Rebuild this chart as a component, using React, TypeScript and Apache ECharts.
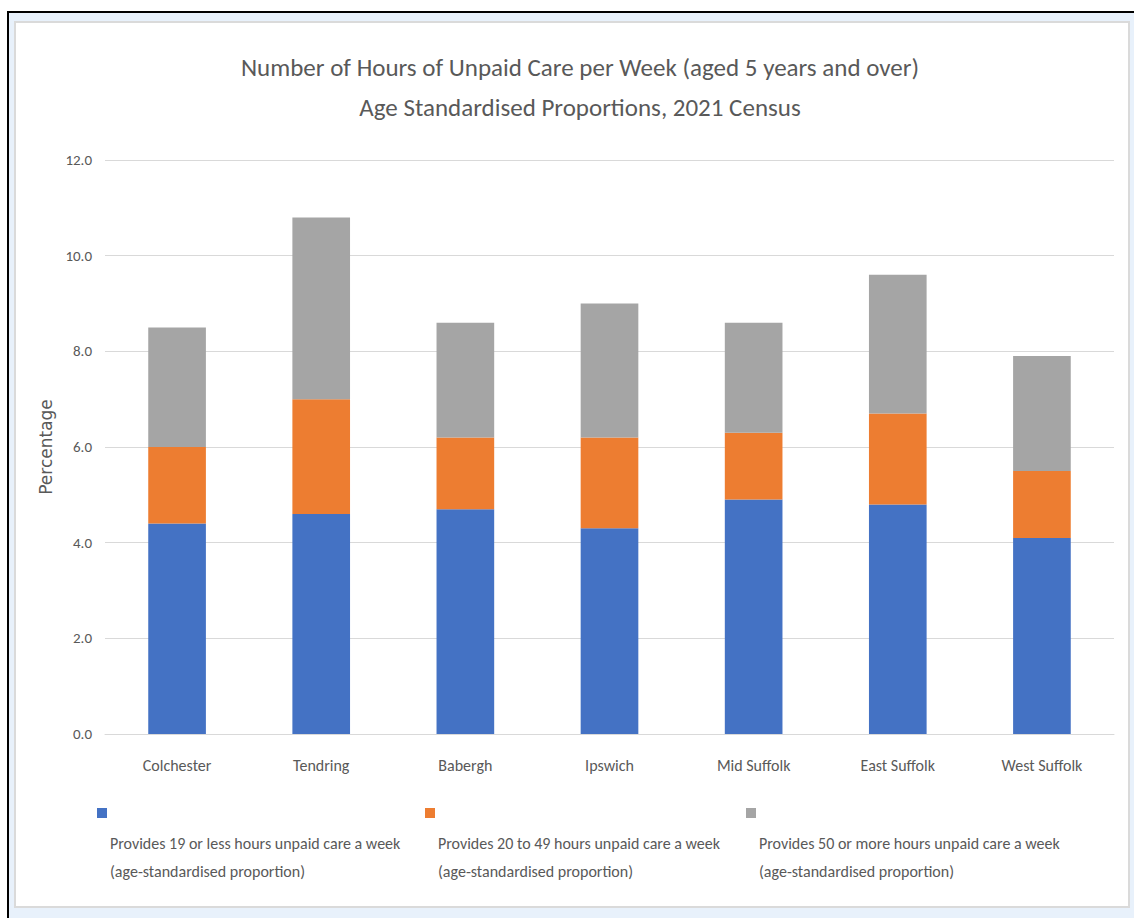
import React, { useEffect, useRef } from "react";
import * as echarts from "echarts";

// Districts along the category axis
const categories = [
  "Colchester",
  "Tendring",
  "Babergh",
  "Ipswich",
  "Mid Suffolk",
  "East Suffolk",
  "West Suffolk",
];

// Age-standardised proportions (%) for each band of weekly unpaid care
const under20Hours = [4.4, 4.6, 4.7, 4.3, 4.9, 4.8, 4.1];
const from20To49Hours = [1.6, 2.4, 1.5, 1.9, 1.4, 1.9, 1.4];
const over50Hours = [2.5, 3.8, 2.4, 2.8, 2.3, 2.9, 2.4];

const seriesNames = [
  "Provides 19 or less hours unpaid care a week (age-standardised proportion)",
  "Provides 20 to 49 hours unpaid care a week (age-standardised proportion)",
  "Provides 50 or more hours unpaid care a week (age-standardised proportion)",
];

const yTicks = [0, 2, 4, 6, 8, 10, 12];

const titleLines = [
  "Number of Hours of Unpaid Care per Week (aged 5 years and over)",
  "Age Standardised Proportions, 2021 Census",
];

const COLORS = ["#4472C4", "#ED7D31", "#A5A5A5"];
const TEXT = "#595959";
const FONT = "Carlito, Lato, 'Liberation Sans', sans-serif";

export default function App() {
  const ref = useRef<HTMLDivElement>(null);

  useEffect(() => {
    if (!ref.current) return;
    const chart = echarts.init(ref.current, null, { renderer: "svg" });
    const values = [under20Hours, from20To49Hours, over50Hours];

    // Legend drawn as swatch above a wrapped two-line caption
    const legendX = [97, 425, 746];
    const legendGraphics: any[] = [];
    seriesNames.forEach((name, i) => {
      const cut = name.indexOf(" (");
      const caption = name.slice(0, cut) + "\n" + name.slice(cut + 1);
      legendGraphics.push({
        type: "rect",
        shape: { x: legendX[i], y: 808, width: 10, height: 10 },
        style: { fill: COLORS[i] },
      });
      legendGraphics.push({
        type: "text",
        x: legendX[i] + 13,
        y: 829,
        style: {
          text: caption,
          fill: TEXT,
          font: `16px ${FONT}`,
          lineHeight: 28,
          textVerticalAlign: "top",
        },
      });
    });

    chart.setOption({
      animation: false,
      title: {
        text: titleLines.join("\n"),
        left: 575,
        textAlign: "center",
        top: 42,
        textStyle: {
          color: TEXT,
          fontFamily: FONT,
          fontWeight: "normal",
          fontSize: 25,
          lineHeight: 40,
        },
      },
      grid: { left: 105, right: 20, top: 160, bottom: 184 },
      xAxis: {
        type: "category",
        data: categories,
        axisLine: { lineStyle: { color: "#D9D9D9", width: 1 } },
        axisTick: { show: false },
        axisLabel: {
          color: TEXT,
          fontFamily: FONT,
          fontSize: 16,
          margin: 23,
        },
      },
      yAxis: {
        type: "value",
        min: yTicks[0],
        max: yTicks[yTicks.length - 1],
        interval: yTicks[1] - yTicks[0],
        name: "Percentage",
        nameLocation: "middle",
        nameGap: 49,
        nameRotate: 90,
        nameTextStyle: {
          color: TEXT,
          fontFamily: "'DejaVu Sans', sans-serif",
          fontSize: 17,
        },
        axisLine: { show: false },
        axisTick: { show: false },
        splitLine: { lineStyle: { color: "#D9D9D9", width: 1 } },
        axisLabel: {
          color: TEXT,
          fontFamily: FONT,
          fontSize: 15,
          margin: 13,
          formatter: (v: number) => v.toFixed(1),
        },
      },
      series: seriesNames.map((name, i) => ({
        name,
        type: "bar",
        stack: "care",
        barWidth: "40%",
        data: values[i],
        itemStyle: { color: COLORS[i] },
      })),
      graphic: legendGraphics,
    });

    return () => chart.dispose();
  }, []);

  return (
    <div
      style={{
        position: "absolute",
        left: 0,
        top: 0,
        width: 1134,
        height: 918,
        background: "#FFFFFF",
        overflow: "hidden",
      }}
    >
      <div
        style={{
          position: "absolute",
          left: 7,
          top: 11,
          width: 1127,
          height: 907,
          background: "#E8F1FB",
          borderLeft: "2px solid #000",
          borderTop: "2px solid #000",
          boxSizing: "border-box",
        }}
      />
      <div
        style={{
          position: "absolute",
          left: 14,
          top: 21,
          width: 1116,
          height: 887,
          background: "#FFFFFF",
          border: "2px solid #DADADA",
          boxSizing: "border-box",
        }}
      />
      <div
        ref={ref}
        style={{ position: "absolute", left: 0, top: 0, width: 1134, height: 918 }}
      />
    </div>
  );
}
